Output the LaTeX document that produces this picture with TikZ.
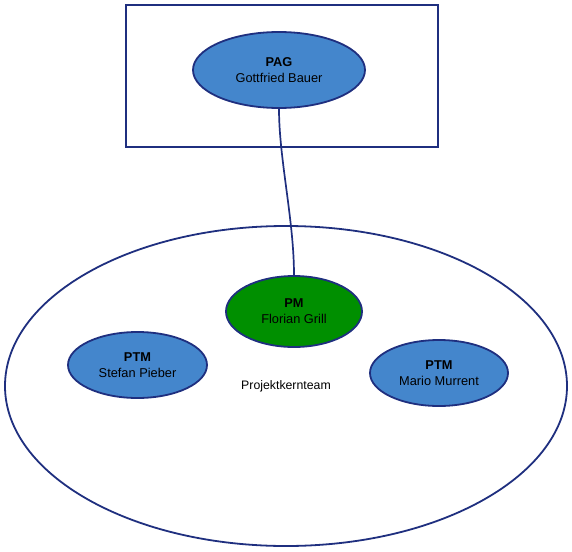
\documentclass[tikz,border=0pt]{standalone}
\usepackage{fontspec}
\setmainfont{Liberation Sans}
\usetikzlibrary{shapes.geometric}
\definecolor{edge}{HTML}{1F2F7F}
\definecolor{bluefill}{HTML}{4486CC}
\definecolor{greenfill}{HTML}{008F00}
\begin{document}
\begin{tikzpicture}[x=1pt,y=-1pt,
  role/.style={ellipse,draw=edge,line width=1.8pt,fill=bluefill,inner sep=0pt,align=center,font=\fontsize{12.8}{16}\selectfont},
  conn/.style={draw=edge,line width=1.7pt}]
\useasboundingbox (0,0) rectangle (572,551);
\draw[edge,line width=1.8pt] (126,5) rectangle (438,147);
\node[draw=edge,line width=1.8pt,ellipse,minimum width=562pt,minimum height=320pt,inner sep=0pt] (team) at (286,386) {};
\node[font=\fontsize{12.3}{14}\selectfont] (teamlabel) at (286,386) {Projektkernteam};
\node[role,minimum width=172pt,minimum height=76pt] (pag) at (279,70) {\textbf{PAG}\\Gottfried Bauer};
\node[role,fill=greenfill,minimum width=136pt,minimum height=71pt] (pm) at (294,311.5) {\textbf{PM}\\Florian Grill};
\node[role,minimum width=139pt,minimum height=66pt] (ptm1) at (137.5,365) {\textbf{PTM}\\Stefan Pieber};
\node[role,minimum width=138pt,minimum height=66pt] (ptm2) at (439,373) {\textbf{PTM}\\Mario Murrent};
\draw[conn] (pag.south) .. controls ([yshift=-50pt]pag.south) and ([yshift=55pt]pm.north) .. (pm.north);
\end{tikzpicture}
\end{document}
